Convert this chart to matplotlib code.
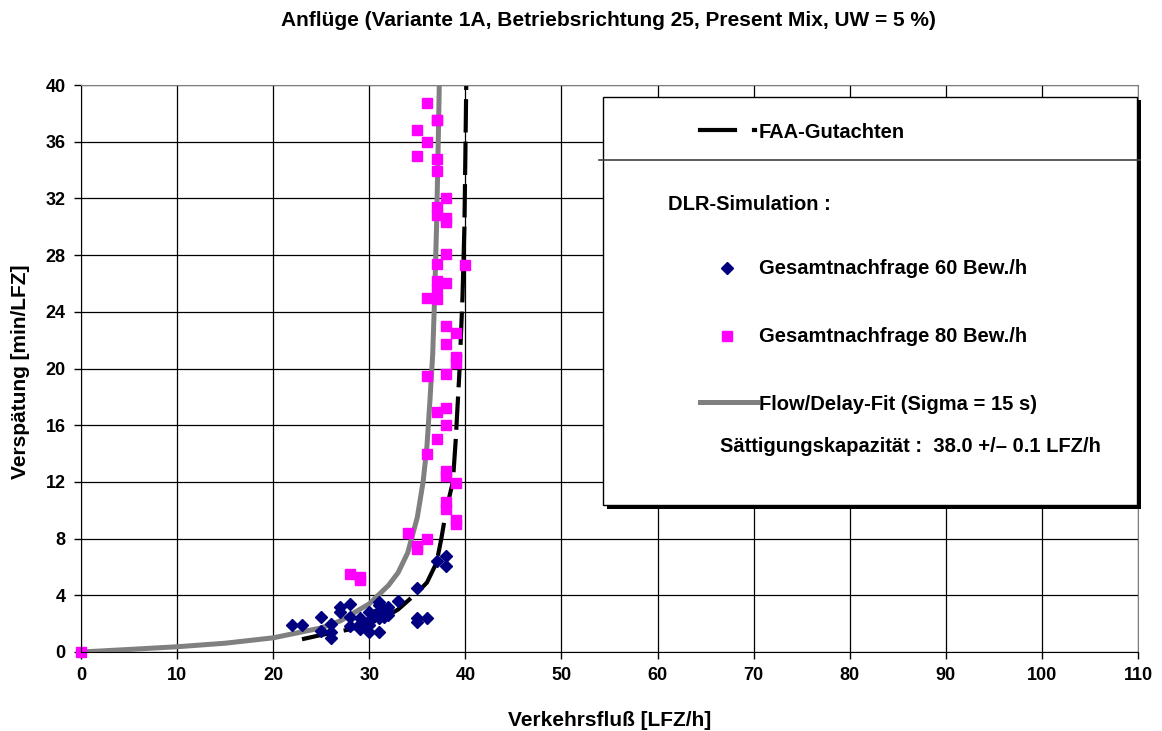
import matplotlib.pyplot as plt
from matplotlib.lines import Line2D
from matplotlib.patches import Rectangle

plt.rcParams['font.family'] = ['Liberation Sans', 'DejaVu Sans']
plt.rcParams['font.weight'] = 'bold'

# Gesamtnachfrage 60 Bew./h
x60 = [22, 23, 25, 25, 26, 26, 26, 27, 28, 27, 28, 29, 29, 30, 30, 30, 31, 30,
       30.5, 31, 31, 31.5, 32, 32, 33, 35, 35, 36, 37, 38, 38, 35, 31, 31, 29, 28, 32]
y60 = [1.9, 1.9, 2.5, 1.5, 2.0, 1.0, 1.4, 3.2, 3.4, 2.8, 1.8, 1.6, 2.4, 2.8, 2.2, 1.4, 1.4, 1.9,
       2.6, 3.3, 2.4, 2.5, 3.2, 2.6, 3.6, 4.5, 2.1, 2.4, 6.4, 6.8, 6.1, 2.4, 3.5, 2.9, 2.0, 2.5, 2.9]

# Gesamtnachfrage 80 Bew./h
x80 = [0, 28, 29, 29, 34, 35, 35, 36, 36, 36, 37, 37, 38, 38, 38, 38, 38, 39, 39,
       39, 38, 38, 38, 38, 39, 39, 39, 38, 37, 37, 37, 36, 37, 40, 38, 38, 38, 37,
       37, 38, 37, 37, 35, 35, 36, 37, 36, 37]
y80 = [0, 5.5, 5.3, 5.1, 8.4, 7.5, 7.3, 8.0, 14.0, 19.5, 15.0, 16.9, 16.0, 17.2, 19.6,
       21.7, 23.0, 20.4, 20.8, 22.5, 12.8, 12.4, 10.6, 10.1, 11.9, 9.3, 9.0, 26.0,
       24.9, 25.6, 26.2, 25.0, 27.4, 27.3, 28.1, 30.3, 30.6, 30.8, 31.4, 32.0, 33.9,
       34.8, 35.0, 36.8, 36.0, 37.5, 38.7, 37.5]

# FAA-Gutachten
x_faa = [23, 25, 28, 30, 32, 33, 34, 35, 36, 37, 37.5, 38, 38.7, 39, 39.4, 39.7, 39.9, 40, 40.1]
y_faa = [0.9, 1.2, 1.6, 2.0, 2.6, 3.0, 3.6, 4.2, 4.9, 6.3, 8, 10, 12, 15, 20, 25, 30, 35, 40.5]

# Flow/Delay-Fit (Sigma = 15 s)
x_fit = [0, 5, 10, 15, 20, 25, 27, 30, 32, 33, 34, 35, 35.6, 36, 36.3, 36.6, 36.8, 37, 37.15, 37.3]
y_fit = [0, 0.18, 0.37, 0.62, 1.0, 1.7, 2.2, 3.4, 4.7, 5.6, 7.0, 9.5, 12, 14.5, 17.6, 21, 25, 30, 35, 40.5]

xticks = list(range(0, 111, 10))
yticks = list(range(0, 41, 4))

W, H = 1162, 731
fig = plt.figure(figsize=(W / 100, H / 100), dpi=100)
ax = fig.add_axes([81 / W, 1 - 652 / H, (1138 - 81) / W, (652 - 85) / H])

ax.plot(x_fit, y_fit, color='#808080', lw=3.6, solid_capstyle='butt')
ax.plot(x_faa, y_faa, color='black', lw=3, dashes=(8, 2.2))
ax.plot(x60, y60, 'D', color='#000080', ms=6.5, mec='#000080', clip_on=False)
ax.plot(x80, y80, 's', color='#FF00FF', ms=7.5, mec='#FF00FF', clip_on=False)

ax.set_xlim(0, 110)
ax.set_ylim(0, 40)
ax.set_xticks(xticks)
ax.set_yticks(yticks)
ax.tick_params(labelsize=13, direction='out', length=5, width=1, pad=6)
for lab in ax.get_xticklabels() + ax.get_yticklabels():
    lab.set_fontweight('bold')
ax.grid(True, color='black', lw=0.9)
ax.set_axisbelow(True)
for s in ['top', 'right']:
    ax.spines[s].set_color('#808080')


def fx(px):
    return px / W


def fy(py):
    return 1 - py / H


fig.text(fx(608), fy(20), 'Anflüge (Variante 1A, Betriebsrichtung 25, Present Mix, UW = 5 %)',
         ha='center', va='center', fontsize=15, fontweight='bold')
fig.text(fx(610), fy(720), 'Verkehrsfluß [LFZ/h]', ha='center', va='center',
         fontsize=15, fontweight='bold')
fig.text(fx(21), fy(372), 'Verspätung [min/LFZ]', ha='center', va='center',
         rotation=90, fontsize=15, fontweight='bold')

# legend box (figure pixel coords)
tf = fig.transFigure
fig.patches.append(Rectangle((fx(607), fy(509)), fx(1141) - fx(607), fy(100) - fy(509),
                             transform=tf, facecolor='black', edgecolor='none', zorder=5))
fig.patches.append(Rectangle((fx(603), fy(505)), fx(1137) - fx(603), fy(97) - fy(505),
                             transform=tf, facecolor='white', edgecolor='black', lw=1, zorder=6))
fig.lines.append(Line2D([fx(599), fx(1140)], [fy(160), fy(160)], transform=tf,
                        color='#404040', lw=1.2, zorder=7))
fig.lines.append(Line2D([fx(700), fx(735)], [fy(130), fy(130)], transform=tf,
                        color='black', lw=3, zorder=7))
fig.lines.append(Line2D([fx(754), fx(755)], [fy(130), fy(130)], transform=tf,
                        color='black', lw=3, zorder=7))
fig.lines.append(Line2D([fx(727)], [fy(268)], transform=tf, marker='D', color='#000080',
                        ms=6, zorder=7))
fig.lines.append(Line2D([fx(727)], [fy(336)], transform=tf, marker='s', color='#FF00FF',
                        ms=7, zorder=7))
fig.lines.append(Line2D([fx(700), fx(757)], [fy(402), fy(402)], transform=tf,
                        color='#808080', lw=3.6, zorder=7))

lkw = dict(fontsize=14.5, fontweight='bold', va='center', ha='left', zorder=8)
fig.text(fx(759), fy(133), 'FAA-Gutachten', **lkw)
fig.text(fx(668), fy(204), 'DLR-Simulation :', **lkw)
fig.text(fx(759), fy(269), 'Gesamtnachfrage 60 Bew./h', **lkw)
fig.text(fx(759), fy(337), 'Gesamtnachfrage 80 Bew./h', **lkw)
fig.text(fx(759), fy(405), 'Flow/Delay-Fit (Sigma = 15 s)', **lkw)
fig.text(fx(720), fy(447), 'Sättigungskapazität :  38.0 +/– 0.1 LFZ/h', **lkw)

fig.savefig('out.png', dpi=100)
